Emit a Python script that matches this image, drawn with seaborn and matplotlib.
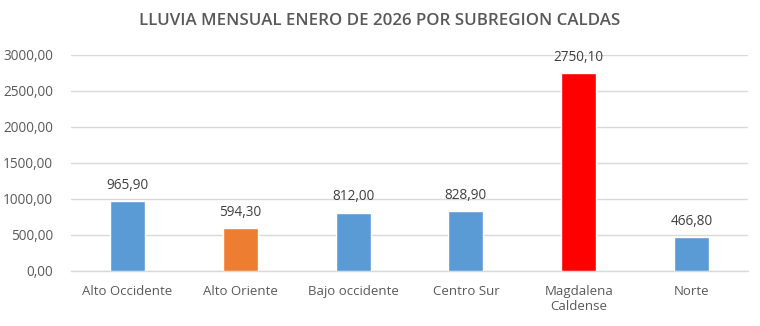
import matplotlib
matplotlib.use("Agg")
import matplotlib.pyplot as plt
import seaborn as sns
import pandas as pd

subregiones = ["Alto Occidente", "Alto Oriente", "Bajo occidente", "Centro Sur",
               "Magdalena\nCaldense", "Norte"]
lluvia_mm = [965.90, 594.30, 812.00, 828.90, 2750.10, 466.80]
colores = ["#5B9BD5", "#ED7D31", "#5B9BD5", "#5B9BD5", "#FF0000", "#5B9BD5"]
y_ticks = [0, 500, 1000, 1500, 2000, 2500, 3000]

sns.set_theme(style="white")
plt.rcParams["font.family"] = ["Open Sans", "DejaVu Sans"]

df = pd.DataFrame({"subregion": subregiones, "lluvia": lluvia_mm})

fig = plt.figure(figsize=(7.6, 3.26), dpi=100)
ax = fig.add_axes([71 / 760, 1 - 271 / 326, (748 - 71) / 760, (271 - 55) / 326])

sns.barplot(data=df, x="subregion", y="lluvia", hue="subregion", palette=colores,
            legend=False, width=0.31, saturation=1, ax=ax, zorder=3)

def fmt(v):
    return f"{v:.2f}".replace(".", ",")

ax.set_ylim(0, 3000)
ax.set_yticks(y_ticks)
ax.set_yticklabels([fmt(v) for v in y_ticks], color="#595959", fontsize=9.8)
ax.tick_params(axis="x", colors="#595959", labelsize=9.5, length=0, pad=10)
ax.tick_params(axis="y", length=0, pad=13)
for lbl in ax.get_xticklabels():
    lbl.set_color("#595959")
ax.set_xlabel("")
ax.set_ylabel("")
ax.grid(axis="y", color="#D9D9D9", linewidth=1, zorder=0)
for s in ["top", "right", "left"]:
    ax.spines[s].set_visible(False)
ax.spines["bottom"].set_color("#D9D9D9")
ax.spines["bottom"].set_linewidth(1)

for container in ax.containers:
    ax.bar_label(container, labels=[fmt(b.get_height()) for b in container],
                 padding=6, color="#404040", fontsize=9.8)

fig.text(0.5, 1 - 21 / 326, "LLUVIA MENSUAL ENERO DE 2026 POR SUBREGION CALDAS",
         ha="center", va="center", fontsize=12.2, fontweight="semibold", color="#595959")

fig.savefig("out.png", dpi=100)
